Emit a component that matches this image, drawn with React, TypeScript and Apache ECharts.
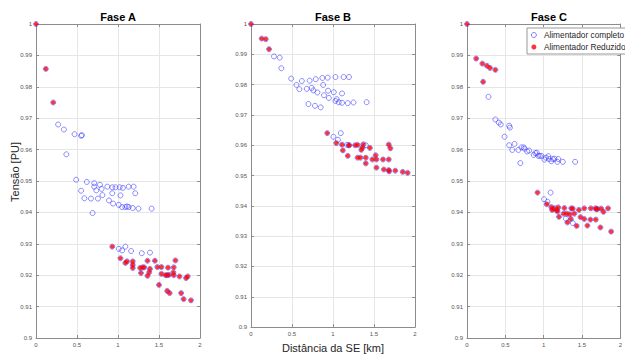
import React, { useEffect, useRef } from "react";
import * as echarts from "echarts";

// ---------- DATA ----------
const faseTitles = ["Fase A", "Fase B", "Fase C"];

// Fase A
const faseA_reduzido: number[][] = [
  [0, 1.0], [0.12, 0.9857], [0.21, 0.975],
  [0.93, 0.9291], [1.03, 0.9254], [1.09, 0.9239], [1.11, 0.9244], [1.18, 0.9244], [1.18, 0.9233],
  [1.18, 0.9223], [1.27, 0.9223], [1.30, 0.9225], [1.32, 0.9225], [1.28, 0.9207], [1.36, 0.9246],
  [1.39, 0.922], [1.38, 0.9209], [1.36, 0.9198], [1.45, 0.9246], [1.48, 0.9226], [1.53, 0.9226],
  [1.53, 0.9204], [1.58, 0.92], [1.60, 0.92], [1.62, 0.9201], [1.61, 0.9224], [1.68, 0.9225],
  [1.675, 0.9209], [1.68, 0.92], [1.70, 0.9247], [1.75, 0.9196], [1.83, 0.9191], [1.85, 0.9196],
  [1.50, 0.9169], [1.60, 0.915], [1.63, 0.9143], [1.77, 0.9143], [1.80, 0.9124], [1.89, 0.912],
];
const faseA_soCompleto: number[][] = [
  [0.27, 0.968], [0.34, 0.9664], [0.47, 0.9649], [0.55, 0.9644], [0.56, 0.9646], [0.37, 0.9585],
  [0.49, 0.9504], [0.62, 0.9497], [0.55, 0.9469], [0.59, 0.9445], [0.67, 0.9444], [0.71, 0.9493],
  [0.71, 0.9482], [0.735, 0.947], [0.755, 0.9444], [0.78, 0.9488], [0.80, 0.9475], [0.81, 0.9455],
  [0.87, 0.9482], [0.89, 0.9438], [0.93, 0.9461], [0.93, 0.948], [0.97, 0.948], [1.02, 0.948],
  [1.06, 0.9478], [0.94, 0.9428], [1.03, 0.9454], [1.01, 0.9424], [1.05, 0.9417], [1.09, 0.9417],
  [1.11, 0.9419], [1.13, 0.9417], [1.13, 0.9482], [1.19, 0.9482], [1.21, 0.9461], [1.18, 0.9414],
  [1.25, 0.9412], [1.41, 0.9412], [0.69, 0.9398],
  [1.01, 0.9284], [1.05, 0.9279], [1.09, 0.9291], [1.16, 0.9277], [1.29, 0.927], [1.39, 0.9272],
];

// Fase B
const faseB_reduzido: number[][] = [
  [0, 1.0], [0.13, 0.9952], [0.18, 0.995], [0.22, 0.9917],
  [0.93, 0.964], [1.04, 0.9607], [1.11, 0.9602], [1.12, 0.9583], [1.18, 0.9565], [1.19, 0.96],
  [1.20, 0.96], [1.27, 0.96], [1.30, 0.9601], [1.30, 0.9559], [1.335, 0.9559], [1.345, 0.9585],
  [1.36, 0.9592], [1.37, 0.9603], [1.40, 0.9559], [1.40, 0.954], [1.45, 0.9591], [1.48, 0.9553],
  [1.52, 0.9567], [1.53, 0.9553], [1.53, 0.9526], [1.61, 0.9553], [1.62, 0.952], [1.68, 0.9602],
  [1.70, 0.959], [1.68, 0.9553], [1.68, 0.9518], [1.685, 0.9514], [1.76, 0.9516], [1.85, 0.9512],
  [1.91, 0.9509],
];
const faseB_soCompleto: number[][] = [
  [0.28, 0.9893], [0.35, 0.9889], [0.37, 0.9854], [0.49, 0.982], [0.555, 0.9799], [0.59, 0.9785],
  [0.62, 0.9812], [0.68, 0.9786], [0.715, 0.9813], [0.74, 0.9789], [0.76, 0.9781], [0.79, 0.9818],
  [0.81, 0.9774], [0.70, 0.9736], [0.78, 0.973], [0.85, 0.9725], [0.87, 0.9822], [0.88, 0.9799],
  [0.89, 0.9765], [0.935, 0.9823], [0.94, 0.978], [0.95, 0.9756], [1.03, 0.9825], [1.01, 0.9775],
  [1.03, 0.9746], [1.045, 0.9752], [1.07, 0.9742], [1.11, 0.974], [1.11, 0.9771], [1.13, 0.9825],
  [1.195, 0.9825], [1.18, 0.9739], [1.25, 0.9741], [1.41, 0.9742],
  [1.005, 0.9628], [1.06, 0.9618], [1.095, 0.964], [1.17, 0.9601], [1.40, 0.96],
];

// Fase C
const faseC_reduzido: number[][] = [
  [0, 1.0], [0.12, 0.989], [0.20, 0.9874], [0.26, 0.9867], [0.30, 0.986], [0.37, 0.9854], [0.21, 0.9816],
  [0.92, 0.9463], [1.04, 0.9426], [1.10, 0.9417], [1.11, 0.9408], [1.13, 0.9412], [1.17, 0.9408],
  [1.19, 0.9416], [1.18, 0.9403], [1.20, 0.9386], [1.26, 0.9396], [1.27, 0.9414], [1.30, 0.9396],
  [1.34, 0.9394], [1.31, 0.9368], [1.355, 0.9379], [1.36, 0.9413], [1.38, 0.9412], [1.40, 0.9396],
  [1.43, 0.9357], [1.46, 0.9408], [1.48, 0.9385], [1.53, 0.9413], [1.53, 0.9379], [1.57, 0.9358],
  [1.61, 0.9377], [1.615, 0.9413], [1.675, 0.9413], [1.69, 0.941], [1.70, 0.9411], [1.68, 0.9377],
  [1.74, 0.9352], [1.75, 0.9412], [1.78, 0.9402], [1.84, 0.9413], [1.88, 0.9339],
];
const faseC_soCompleto: number[][] = [
  [0.28, 0.9768], [0.37, 0.9696], [0.415, 0.9686], [0.44, 0.968], [0.49, 0.9641], [0.55, 0.9676],
  [0.56, 0.967], [0.55, 0.9614], [0.59, 0.9599], [0.62, 0.9618], [0.67, 0.9599], [0.695, 0.9557],
  [0.71, 0.9607], [0.74, 0.9607], [0.75, 0.9603], [0.785, 0.9594], [0.81, 0.9597], [0.87, 0.9583],
  [0.89, 0.9589], [0.91, 0.959], [0.93, 0.958], [0.95, 0.958], [0.97, 0.958], [1.01, 0.9568],
  [1.03, 0.9574], [1.06, 0.9579], [1.07, 0.957], [1.10, 0.9563], [1.12, 0.957], [1.14, 0.9571],
  [1.18, 0.9561], [1.19, 0.957], [1.25, 0.9561], [1.41, 0.9561],
  [1.005, 0.9442], [1.05, 0.9434], [1.09, 0.9463], [1.15, 0.9413], [1.29, 0.938], [1.38, 0.9366],
];

const reduzidoSets = [faseA_reduzido, faseB_reduzido, faseC_reduzido];
const soCompletoSets = [faseA_soCompleto, faseB_soCompleto, faseC_soCompleto];

const NAME_COMPLETO = "Alimentador completo";
const NAME_REDUZIDO = "Alimentador Reduzido";

// ---------- LAYOUT ----------
const gridLefts = [36, 251, 467];
const gridWidth = 164;
const gridTop = 24;
const gridHeight = 314;
const FONT = "Liberation Sans, Arial, sans-serif";
const AXIS_COLOR = "#8c8c8c";
const BLUE = "#3333ff";

export default function App() {
  const ref = useRef<HTMLDivElement>(null);

  useEffect(() => {
    if (!ref.current) return;
    const chart = echarts.init(ref.current, undefined, { renderer: "svg" });

    const grids = gridLefts.map((l) => ({
      left: l,
      top: gridTop,
      width: gridWidth,
      height: gridHeight,
      containLabel: false,
    }));

    const baseX = (i: number, pos: "bottom" | "top") => ({
      type: "value",
      gridIndex: i,
      position: pos,
      min: 0,
      max: 2,
      interval: 0.5,
      axisLine: { show: true, onZero: false, lineStyle: { color: AXIS_COLOR, width: 1 } },
      axisTick: { show: true, inside: true, length: 3, lineStyle: { color: AXIS_COLOR } },
      axisLabel: {
        show: pos === "bottom",
        fontSize: 6,
        color: "#555",
        fontFamily: FONT,
        margin: 4,
        formatter: (v: number) => String(+v.toFixed(2)),
      },
      splitLine: { show: pos === "bottom", lineStyle: { color: "#e6e6e6", width: 1 } },
      ...(i === 1 && pos === "bottom"
        ? {
            name: "Distância da SE [km]",
            nameLocation: "middle",
            nameGap: 11,
            nameTextStyle: { fontSize: 11, color: "#262626", fontFamily: FONT },
          }
        : {}),
    });

    const baseY = (i: number, pos: "left" | "right") => ({
      type: "value",
      gridIndex: i,
      position: pos,
      min: 0.9,
      max: 1,
      interval: 0.01,
      axisLine: { show: true, onZero: false, lineStyle: { color: AXIS_COLOR, width: 1 } },
      axisTick: { show: true, inside: true, length: 3, lineStyle: { color: AXIS_COLOR } },
      axisLabel: {
        show: pos === "left",
        fontSize: 6,
        color: "#555",
        fontFamily: FONT,
        margin: 4,
        formatter: (v: number) => String(+v.toFixed(2)),
      },
      splitLine: { show: pos === "left", lineStyle: { color: "#e6e6e6", width: 1 } },
    });

    const xAxes = [0, 1, 2].map((i) => baseX(i, "bottom")).concat([0, 1, 2].map((i) => baseX(i, "top")));
    const yAxes = [0, 1, 2].map((i) => baseY(i, "left")).concat([0, 1, 2].map((i) => baseY(i, "right")));

    const series: any[] = [];
    [0, 1, 2].forEach((i) => {
      series.push({
        type: "scatter",
        name: NAME_COMPLETO,
        xAxisIndex: i,
        yAxisIndex: i,
        symbol: "circle",
        symbolSize: 5,
        itemStyle: { color: "rgba(255,255,255,0)", borderColor: BLUE, borderWidth: 0.7 },
        data: [...soCompletoSets[i], ...reduzidoSets[i]],
        z: 2,
      });
      series.push({
        type: "scatter",
        name: NAME_REDUZIDO,
        xAxisIndex: i,
        yAxisIndex: i,
        symbol: "circle",
        symbolSize: 4.3,
        itemStyle: { color: "#ff0000", borderWidth: 0 },
        data: reduzidoSets[i],
        z: 3,
      });
    });

    const graphics: any[] = faseTitles.map((t, i) => ({
      type: "text",
      x: gridLefts[i] + gridWidth / 2,
      y: 17,
      style: {
        text: t,
        fontSize: 11,
        fontWeight: "bold",
        fontFamily: FONT,
        fill: "#000",
        align: "center",
        verticalAlign: "middle",
        textAlign: "center",
        textVerticalAlign: "middle",
      },
    }));
    graphics.push({
      type: "text",
      x: 15,
      y: 172,
      rotation: Math.PI / 2,
      style: {
        text: "Tensão [PU]",
        fontSize: 11,
        fontFamily: FONT,
        fill: "#262626",
        align: "center",
        verticalAlign: "middle",
        textAlign: "center",
        textVerticalAlign: "middle",
      },
    });

    chart.setOption({
      animation: false,
      backgroundColor: "#ffffff",
      textStyle: { fontFamily: FONT },
      grid: grids,
      xAxis: xAxes,
      yAxis: yAxes,
      legend: {
        show: true,
        data: [
          {
            name: NAME_COMPLETO,
            icon: "circle",
            itemStyle: { color: "rgba(255,255,255,0)", borderColor: BLUE, borderWidth: 0.8 },
          },
          { name: NAME_REDUZIDO, icon: "circle", itemStyle: { color: "#ff0000", borderWidth: 0 } },
        ],
        orient: "vertical",
        left: 527,
        top: 28,
        itemWidth: 12,
        itemHeight: 5,
        itemGap: 4,
        padding: [3, 6, 3, 4],
        backgroundColor: "#ffffff",
        borderColor: "#999",
        borderWidth: 1,
        borderRadius: 0,
        textStyle: { fontSize: 8.3, color: "#262626", fontFamily: FONT, padding: [0, 0, 0, -1] },
        selectedMode: false,
      },
      graphic: graphics,
      series,
    });

    return () => chart.dispose();
  }, []);

  return (
    <div
      ref={ref}
      style={{ position: "fixed", left: 0, top: 0, width: 625, height: 358, background: "#fff" }}
    />
  );
}
